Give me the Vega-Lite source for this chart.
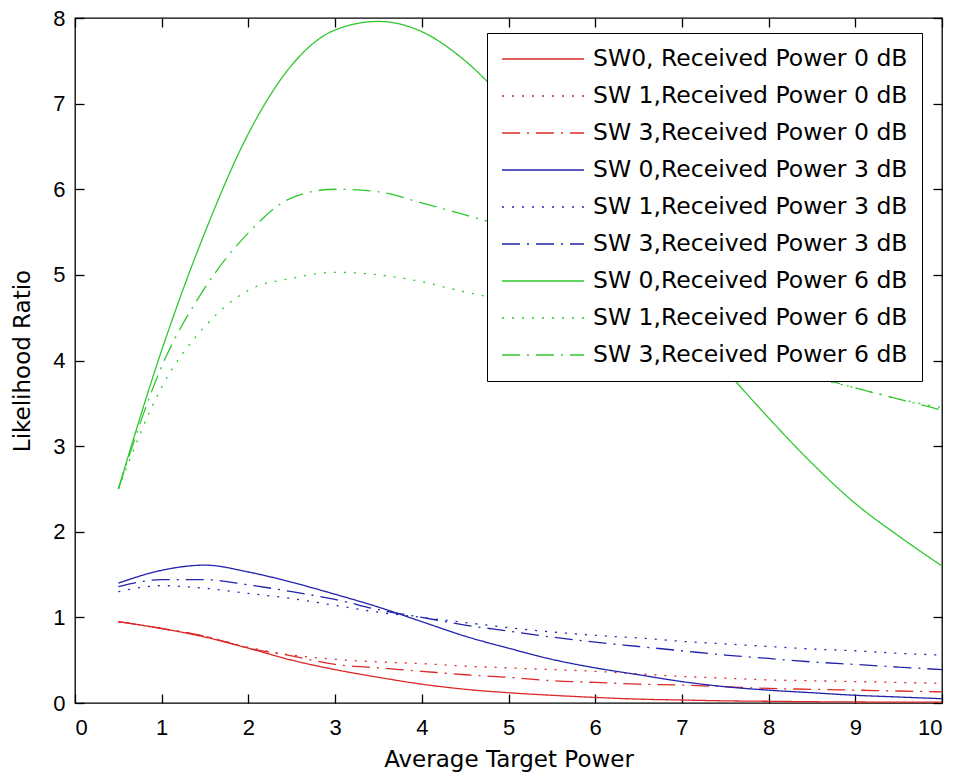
{
  "$schema": "https://vega.github.io/schema/vega-lite/v6.json",
  "autosize": "none",
  "width": 867,
  "height": 685,
  "padding": {"left": 75, "top": 18, "right": 18, "bottom": 73},
  "background": "white",
  "config": {
    "view": {"stroke": "black", "strokeWidth": 1.3},
    "font": "DejaVu Sans",
    "axis": {
      "grid": false,
      "domain": false,
      "tickColor": "black",
      "tickWidth": 1.3,
      "tickSize": 9,
      "offset": -9,
      "labelColor": "black",
      "titleColor": "black",
      "labelFont": "Liberation Sans",
      "titleFont": "DejaVu Sans",
      "labelFontSize": 22,
      "titleFontSize": 23,
      "titleFontWeight": "normal"
    }
  },
  "datasets": {
    "curves": [
      {"x":0.5,"y":0.95,"s":"SW0, Received Power 0 dB"},{"x":1,"y":0.87,"s":"SW0, Received Power 0 dB"},{"x":1.5,"y":0.77,"s":"SW0, Received Power 0 dB"},{"x":2,"y":0.64,"s":"SW0, Received Power 0 dB"},{"x":2.5,"y":0.5,"s":"SW0, Received Power 0 dB"},{"x":3,"y":0.39,"s":"SW0, Received Power 0 dB"},{"x":3.5,"y":0.3,"s":"SW0, Received Power 0 dB"},{"x":4,"y":0.22,"s":"SW0, Received Power 0 dB"},{"x":4.5,"y":0.16,"s":"SW0, Received Power 0 dB"},{"x":5,"y":0.12,"s":"SW0, Received Power 0 dB"},{"x":5.5,"y":0.09,"s":"SW0, Received Power 0 dB"},{"x":6,"y":0.065,"s":"SW0, Received Power 0 dB"},{"x":6.5,"y":0.045,"s":"SW0, Received Power 0 dB"},{"x":7,"y":0.035,"s":"SW0, Received Power 0 dB"},{"x":7.5,"y":0.025,"s":"SW0, Received Power 0 dB"},{"x":8,"y":0.02,"s":"SW0, Received Power 0 dB"},{"x":8.5,"y":0.015,"s":"SW0, Received Power 0 dB"},{"x":9,"y":0.012,"s":"SW0, Received Power 0 dB"},{"x":9.5,"y":0.01,"s":"SW0, Received Power 0 dB"},{"x":10,"y":0.01,"s":"SW0, Received Power 0 dB"},

      {"x":0.5,"y":0.95,"s":"SW 1,Received Power 0 dB"},{"x":1,"y":0.87,"s":"SW 1,Received Power 0 dB"},{"x":1.5,"y":0.78,"s":"SW 1,Received Power 0 dB"},{"x":2,"y":0.65,"s":"SW 1,Received Power 0 dB"},{"x":2.5,"y":0.56,"s":"SW 1,Received Power 0 dB"},{"x":3,"y":0.51,"s":"SW 1,Received Power 0 dB"},{"x":3.5,"y":0.48,"s":"SW 1,Received Power 0 dB"},{"x":4,"y":0.46,"s":"SW 1,Received Power 0 dB"},{"x":4.5,"y":0.43,"s":"SW 1,Received Power 0 dB"},{"x":5,"y":0.41,"s":"SW 1,Received Power 0 dB"},{"x":5.5,"y":0.39,"s":"SW 1,Received Power 0 dB"},{"x":6,"y":0.37,"s":"SW 1,Received Power 0 dB"},{"x":6.5,"y":0.34,"s":"SW 1,Received Power 0 dB"},{"x":7,"y":0.31,"s":"SW 1,Received Power 0 dB"},{"x":7.5,"y":0.29,"s":"SW 1,Received Power 0 dB"},{"x":8,"y":0.27,"s":"SW 1,Received Power 0 dB"},{"x":8.5,"y":0.26,"s":"SW 1,Received Power 0 dB"},{"x":9,"y":0.25,"s":"SW 1,Received Power 0 dB"},{"x":9.5,"y":0.24,"s":"SW 1,Received Power 0 dB"},{"x":10,"y":0.23,"s":"SW 1,Received Power 0 dB"},

      {"x":0.5,"y":0.95,"s":"SW 3,Received Power 0 dB"},{"x":1,"y":0.87,"s":"SW 3,Received Power 0 dB"},{"x":1.5,"y":0.78,"s":"SW 3,Received Power 0 dB"},{"x":2,"y":0.64,"s":"SW 3,Received Power 0 dB"},{"x":2.5,"y":0.55,"s":"SW 3,Received Power 0 dB"},{"x":3,"y":0.45,"s":"SW 3,Received Power 0 dB"},{"x":3.5,"y":0.41,"s":"SW 3,Received Power 0 dB"},{"x":4,"y":0.37,"s":"SW 3,Received Power 0 dB"},{"x":4.5,"y":0.33,"s":"SW 3,Received Power 0 dB"},{"x":5,"y":0.3,"s":"SW 3,Received Power 0 dB"},{"x":5.5,"y":0.26,"s":"SW 3,Received Power 0 dB"},{"x":6,"y":0.24,"s":"SW 3,Received Power 0 dB"},{"x":6.5,"y":0.22,"s":"SW 3,Received Power 0 dB"},{"x":7,"y":0.21,"s":"SW 3,Received Power 0 dB"},{"x":7.5,"y":0.19,"s":"SW 3,Received Power 0 dB"},{"x":8,"y":0.17,"s":"SW 3,Received Power 0 dB"},{"x":8.5,"y":0.16,"s":"SW 3,Received Power 0 dB"},{"x":9,"y":0.15,"s":"SW 3,Received Power 0 dB"},{"x":9.5,"y":0.14,"s":"SW 3,Received Power 0 dB"},{"x":10,"y":0.13,"s":"SW 3,Received Power 0 dB"},

      {"x":0.5,"y":1.4,"s":"SW 0,Received Power 3 dB"},{"x":1,"y":1.55,"s":"SW 0,Received Power 3 dB"},{"x":1.5,"y":1.61,"s":"SW 0,Received Power 3 dB"},{"x":2,"y":1.53,"s":"SW 0,Received Power 3 dB"},{"x":2.5,"y":1.41,"s":"SW 0,Received Power 3 dB"},{"x":3,"y":1.27,"s":"SW 0,Received Power 3 dB"},{"x":3.5,"y":1.12,"s":"SW 0,Received Power 3 dB"},{"x":4,"y":0.95,"s":"SW 0,Received Power 3 dB"},{"x":4.5,"y":0.78,"s":"SW 0,Received Power 3 dB"},{"x":5,"y":0.64,"s":"SW 0,Received Power 3 dB"},{"x":5.5,"y":0.51,"s":"SW 0,Received Power 3 dB"},{"x":6,"y":0.41,"s":"SW 0,Received Power 3 dB"},{"x":6.5,"y":0.33,"s":"SW 0,Received Power 3 dB"},{"x":7,"y":0.25,"s":"SW 0,Received Power 3 dB"},{"x":7.5,"y":0.19,"s":"SW 0,Received Power 3 dB"},{"x":8,"y":0.15,"s":"SW 0,Received Power 3 dB"},{"x":8.5,"y":0.12,"s":"SW 0,Received Power 3 dB"},{"x":9,"y":0.09,"s":"SW 0,Received Power 3 dB"},{"x":9.5,"y":0.07,"s":"SW 0,Received Power 3 dB"},{"x":10,"y":0.05,"s":"SW 0,Received Power 3 dB"},

      {"x":0.5,"y":1.3,"s":"SW 1,Received Power 3 dB"},{"x":1,"y":1.37,"s":"SW 1,Received Power 3 dB"},{"x":1.5,"y":1.34,"s":"SW 1,Received Power 3 dB"},{"x":2,"y":1.28,"s":"SW 1,Received Power 3 dB"},{"x":2.5,"y":1.22,"s":"SW 1,Received Power 3 dB"},{"x":3,"y":1.14,"s":"SW 1,Received Power 3 dB"},{"x":3.5,"y":1.06,"s":"SW 1,Received Power 3 dB"},{"x":4,"y":1.0,"s":"SW 1,Received Power 3 dB"},{"x":4.5,"y":0.94,"s":"SW 1,Received Power 3 dB"},{"x":5,"y":0.88,"s":"SW 1,Received Power 3 dB"},{"x":5.5,"y":0.83,"s":"SW 1,Received Power 3 dB"},{"x":6,"y":0.79,"s":"SW 1,Received Power 3 dB"},{"x":6.5,"y":0.76,"s":"SW 1,Received Power 3 dB"},{"x":7,"y":0.72,"s":"SW 1,Received Power 3 dB"},{"x":7.5,"y":0.69,"s":"SW 1,Received Power 3 dB"},{"x":8,"y":0.66,"s":"SW 1,Received Power 3 dB"},{"x":8.5,"y":0.63,"s":"SW 1,Received Power 3 dB"},{"x":9,"y":0.61,"s":"SW 1,Received Power 3 dB"},{"x":9.5,"y":0.58,"s":"SW 1,Received Power 3 dB"},{"x":10,"y":0.56,"s":"SW 1,Received Power 3 dB"},

      {"x":0.5,"y":1.36,"s":"SW 3,Received Power 3 dB"},{"x":1,"y":1.44,"s":"SW 3,Received Power 3 dB"},{"x":1.5,"y":1.44,"s":"SW 3,Received Power 3 dB"},{"x":2,"y":1.38,"s":"SW 3,Received Power 3 dB"},{"x":2.5,"y":1.3,"s":"SW 3,Received Power 3 dB"},{"x":3,"y":1.21,"s":"SW 3,Received Power 3 dB"},{"x":3.5,"y":1.09,"s":"SW 3,Received Power 3 dB"},{"x":4,"y":1.0,"s":"SW 3,Received Power 3 dB"},{"x":4.5,"y":0.91,"s":"SW 3,Received Power 3 dB"},{"x":5,"y":0.84,"s":"SW 3,Received Power 3 dB"},{"x":5.5,"y":0.77,"s":"SW 3,Received Power 3 dB"},{"x":6,"y":0.71,"s":"SW 3,Received Power 3 dB"},{"x":6.5,"y":0.66,"s":"SW 3,Received Power 3 dB"},{"x":7,"y":0.61,"s":"SW 3,Received Power 3 dB"},{"x":7.5,"y":0.56,"s":"SW 3,Received Power 3 dB"},{"x":8,"y":0.52,"s":"SW 3,Received Power 3 dB"},{"x":8.5,"y":0.48,"s":"SW 3,Received Power 3 dB"},{"x":9,"y":0.45,"s":"SW 3,Received Power 3 dB"},{"x":9.5,"y":0.42,"s":"SW 3,Received Power 3 dB"},{"x":10,"y":0.39,"s":"SW 3,Received Power 3 dB"},

      {"x":0.5,"y":2.5,"s":"SW 0,Received Power 6 dB"},{"x":1,"y":4.12,"s":"SW 0,Received Power 6 dB"},{"x":1.5,"y":5.5,"s":"SW 0,Received Power 6 dB"},{"x":2,"y":6.65,"s":"SW 0,Received Power 6 dB"},{"x":2.5,"y":7.45,"s":"SW 0,Received Power 6 dB"},{"x":3,"y":7.86,"s":"SW 0,Received Power 6 dB"},{"x":3.5,"y":7.96,"s":"SW 0,Received Power 6 dB"},{"x":4,"y":7.84,"s":"SW 0,Received Power 6 dB"},{"x":4.5,"y":7.5,"s":"SW 0,Received Power 6 dB"},{"x":5,"y":7.0,"s":"SW 0,Received Power 6 dB"},{"x":5.5,"y":6.45,"s":"SW 0,Received Power 6 dB"},{"x":6,"y":5.85,"s":"SW 0,Received Power 6 dB"},{"x":6.5,"y":5.2,"s":"SW 0,Received Power 6 dB"},{"x":7,"y":4.55,"s":"SW 0,Received Power 6 dB"},{"x":7.5,"y":3.9,"s":"SW 0,Received Power 6 dB"},{"x":8,"y":3.33,"s":"SW 0,Received Power 6 dB"},{"x":8.5,"y":2.8,"s":"SW 0,Received Power 6 dB"},{"x":9,"y":2.33,"s":"SW 0,Received Power 6 dB"},{"x":9.5,"y":1.95,"s":"SW 0,Received Power 6 dB"},{"x":10,"y":1.6,"s":"SW 0,Received Power 6 dB"},

      {"x":0.5,"y":2.5,"s":"SW 1,Received Power 6 dB"},{"x":1,"y":3.69,"s":"SW 1,Received Power 6 dB"},{"x":1.5,"y":4.4,"s":"SW 1,Received Power 6 dB"},{"x":2,"y":4.82,"s":"SW 1,Received Power 6 dB"},{"x":2.5,"y":4.96,"s":"SW 1,Received Power 6 dB"},{"x":3,"y":5.03,"s":"SW 1,Received Power 6 dB"},{"x":3.5,"y":5.0,"s":"SW 1,Received Power 6 dB"},{"x":4,"y":4.92,"s":"SW 1,Received Power 6 dB"},{"x":4.5,"y":4.8,"s":"SW 1,Received Power 6 dB"},{"x":5,"y":4.7,"s":"SW 1,Received Power 6 dB"},{"x":5.5,"y":4.6,"s":"SW 1,Received Power 6 dB"},{"x":6,"y":4.48,"s":"SW 1,Received Power 6 dB"},{"x":6.5,"y":4.35,"s":"SW 1,Received Power 6 dB"},{"x":7,"y":4.2,"s":"SW 1,Received Power 6 dB"},{"x":7.5,"y":4.05,"s":"SW 1,Received Power 6 dB"},{"x":8,"y":3.92,"s":"SW 1,Received Power 6 dB"},{"x":8.5,"y":3.8,"s":"SW 1,Received Power 6 dB"},{"x":9,"y":3.68,"s":"SW 1,Received Power 6 dB"},{"x":9.5,"y":3.55,"s":"SW 1,Received Power 6 dB"},{"x":10,"y":3.45,"s":"SW 1,Received Power 6 dB"},

      {"x":0.5,"y":2.5,"s":"SW 3,Received Power 6 dB"},{"x":1,"y":3.93,"s":"SW 3,Received Power 6 dB"},{"x":1.5,"y":4.85,"s":"SW 3,Received Power 6 dB"},{"x":2,"y":5.49,"s":"SW 3,Received Power 6 dB"},{"x":2.5,"y":5.9,"s":"SW 3,Received Power 6 dB"},{"x":3,"y":6.0,"s":"SW 3,Received Power 6 dB"},{"x":3.5,"y":5.97,"s":"SW 3,Received Power 6 dB"},{"x":4,"y":5.84,"s":"SW 3,Received Power 6 dB"},{"x":4.5,"y":5.7,"s":"SW 3,Received Power 6 dB"},{"x":5,"y":5.55,"s":"SW 3,Received Power 6 dB"},{"x":5.5,"y":5.35,"s":"SW 3,Received Power 6 dB"},{"x":6,"y":5.1,"s":"SW 3,Received Power 6 dB"},{"x":6.5,"y":4.85,"s":"SW 3,Received Power 6 dB"},{"x":7,"y":4.6,"s":"SW 3,Received Power 6 dB"},{"x":7.5,"y":4.3,"s":"SW 3,Received Power 6 dB"},{"x":8,"y":4.05,"s":"SW 3,Received Power 6 dB"},{"x":8.5,"y":3.83,"s":"SW 3,Received Power 6 dB"},{"x":9,"y":3.68,"s":"SW 3,Received Power 6 dB"},{"x":9.5,"y":3.55,"s":"SW 3,Received Power 6 dB"},{"x":10,"y":3.42,"s":"SW 3,Received Power 6 dB"}
    ]
  },
  "data": {"name": "curves"},
  "layer": [
    {
      "mark": {"type": "line", "strokeWidth": 1.3, "interpolate": "monotone"},
      "encoding": {
        "x": {"field": "x", "type": "quantitative",
          "scale": {"domain": [0, 10], "nice": false, "zero": false},
          "axis": {"orient": "bottom", "title": "Average Target Power", "values": [0,1,2,3,4,5,6,7,8,9,10], "labelPadding": 14, "titlePadding": 10}},
        "y": {"field": "y", "type": "quantitative",
          "scale": {"domain": [0, 8], "nice": false},
          "axis": {"orient": "left", "title": "Likelihood Ratio", "values": [0,1,2,3,4,5,6,7,8], "labelPadding": 10, "titlePadding": 18}},
        "color": {"field": "s", "type": "nominal",
          "scale": {
            "domain": ["SW0, Received Power 0 dB","SW 1,Received Power 0 dB","SW 3,Received Power 0 dB","SW 0,Received Power 3 dB","SW 1,Received Power 3 dB","SW 3,Received Power 3 dB","SW 0,Received Power 6 dB","SW 1,Received Power 6 dB","SW 3,Received Power 6 dB"],
            "range": ["#dc2828","#dc2828","#dc2828","#2222aa","#2222aa","#2222aa","#30c830","#30c830","#30c830"]
          },
          "legend": {
            "orient": "none", "legendX": 412, "legendY": 15, "title": null,
            "symbolType": "stroke", "symbolSize": 6724, "symbolStrokeWidth": 1.3, "clipHeight": 24,
            "labelFont": "DejaVu Sans", "labelFontSize": 23.5, "labelColor": "black", "labelLimit": 500, "labelOffset": 8,
            "strokeColor": "black", "fillColor": "white", "padding": 14, "rowPadding": 13
          }},
        "strokeDash": {"field": "s", "type": "nominal",
          "scale": {
            "domain": ["SW0, Received Power 0 dB","SW 1,Received Power 0 dB","SW 3,Received Power 0 dB","SW 0,Received Power 3 dB","SW 1,Received Power 3 dB","SW 3,Received Power 3 dB","SW 0,Received Power 6 dB","SW 1,Received Power 6 dB","SW 3,Received Power 6 dB"],
            "range": [[1,0],[2,8],[18,7,2,7],[1,0],[2,8],[18,7,2,7],[1,0],[2,8],[18,7,2,7]]
          }}
      }
    },
    {
      "mark": {"type": "point", "opacity": 0},
      "encoding": {
        "x": {"field": "x", "type": "quantitative",
          "axis": {"orient": "top", "title": null, "labels": false, "values": [0,1,2,3,4,5,6,7,8,9,10]}},
        "y": {"field": "y", "type": "quantitative",
          "axis": {"orient": "right", "title": null, "labels": false, "values": [0,1,2,3,4,5,6,7,8]}}
      }
    }
  ],
  "resolve": {"axis": {"x": "independent", "y": "independent"}}
}
